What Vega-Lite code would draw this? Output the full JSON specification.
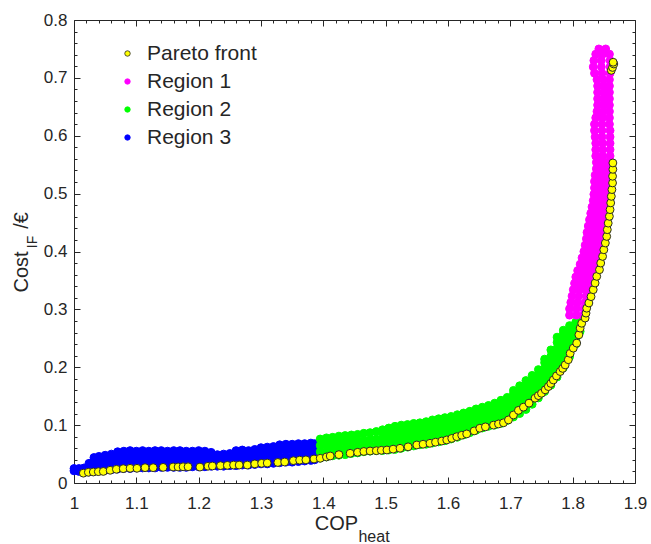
{
  "$schema": "https://vega.github.io/schema/vega-lite/v6.json",
  "autosize": {"type": "none"},
  "width": 561,
  "height": 463,
  "padding": {"left": 74, "top": 20, "right": 16, "bottom": 61},
  "background": "white",
  "config": {
    "view": {"stroke": null},
    "font": "Liberation Sans",
    "axis": {
      "grid": false,
      "domainColor": "#262626",
      "tickColor": "#262626",
      "labelColor": "#262626",
      "titleColor": "#262626",
      "labelFont": "Liberation Sans",
      "titleFont": "Liberation Sans",
      "labelFontSize": 17,
      "titleFontWeight": "normal",
      "domainWidth": 1,
      "tickWidth": 1,
      "labelFlush": false,
      "labelOverlap": false
    }
  },
  "resolve": {"axis": {"x": "independent", "y": "independent"}},
  "layer": [
    {
      "data": {"values": [
        {"g":"Region 3","x":1.000,"y":0.021},{"g":"Region 3","x":1.000,"y":0.025},
        {"g":"Region 3","x":1.008,"y":0.020},{"g":"Region 3","x":1.008,"y":0.025},
        {"g":"Region 3","x":1.016,"y":0.019},{"g":"Region 3","x":1.016,"y":0.026},
        {"g":"Region 3","x":1.024,"y":0.019},{"g":"Region 3","x":1.024,"y":0.027},{"g":"Region 3","x":1.024,"y":0.034},
        {"g":"Region 3","x":1.032,"y":0.020},{"g":"Region 3","x":1.032,"y":0.029},{"g":"Region 3","x":1.032,"y":0.038},{"g":"Region 3","x":1.032,"y":0.044},
        {"g":"Region 3","x":1.04,"y":0.021},{"g":"Region 3","x":1.04,"y":0.030},{"g":"Region 3","x":1.04,"y":0.039},{"g":"Region 3","x":1.04,"y":0.046},
        {"g":"Region 3","x":1.05,"y":0.022},{"g":"Region 3","x":1.05,"y":0.031},{"g":"Region 3","x":1.05,"y":0.040},{"g":"Region 3","x":1.05,"y":0.048},
        {"g":"Region 3","x":1.06,"y":0.023},{"g":"Region 3","x":1.06,"y":0.032},{"g":"Region 3","x":1.06,"y":0.041},{"g":"Region 3","x":1.06,"y":0.050},
        {"g":"Region 3","x":1.07,"y":0.024},{"g":"Region 3","x":1.07,"y":0.034},{"g":"Region 3","x":1.07,"y":0.044},{"g":"Region 3","x":1.07,"y":0.054},
        {"g":"Region 3","x":1.08,"y":0.025},{"g":"Region 3","x":1.08,"y":0.035},{"g":"Region 3","x":1.08,"y":0.045},{"g":"Region 3","x":1.08,"y":0.055},
        {"g":"Region 3","x":1.09,"y":0.025},{"g":"Region 3","x":1.09,"y":0.035},{"g":"Region 3","x":1.09,"y":0.045},{"g":"Region 3","x":1.09,"y":0.056},
        {"g":"Region 3","x":1.10,"y":0.026},{"g":"Region 3","x":1.10,"y":0.036},{"g":"Region 3","x":1.10,"y":0.046},{"g":"Region 3","x":1.10,"y":0.055},
        {"g":"Region 3","x":1.11,"y":0.026},{"g":"Region 3","x":1.11,"y":0.036},{"g":"Region 3","x":1.11,"y":0.046},{"g":"Region 3","x":1.11,"y":0.056},
        {"g":"Region 3","x":1.12,"y":0.026},{"g":"Region 3","x":1.12,"y":0.036},{"g":"Region 3","x":1.12,"y":0.046},{"g":"Region 3","x":1.12,"y":0.055},
        {"g":"Region 3","x":1.13,"y":0.026},{"g":"Region 3","x":1.13,"y":0.036},{"g":"Region 3","x":1.13,"y":0.046},{"g":"Region 3","x":1.13,"y":0.056},
        {"g":"Region 3","x":1.14,"y":0.027},{"g":"Region 3","x":1.14,"y":0.037},{"g":"Region 3","x":1.14,"y":0.047},{"g":"Region 3","x":1.14,"y":0.056},
        {"g":"Region 3","x":1.15,"y":0.027},{"g":"Region 3","x":1.15,"y":0.037},{"g":"Region 3","x":1.15,"y":0.047},{"g":"Region 3","x":1.15,"y":0.055},
        {"g":"Region 3","x":1.16,"y":0.027},{"g":"Region 3","x":1.16,"y":0.037},{"g":"Region 3","x":1.16,"y":0.047},{"g":"Region 3","x":1.16,"y":0.056},
        {"g":"Region 3","x":1.17,"y":0.027},{"g":"Region 3","x":1.17,"y":0.037},{"g":"Region 3","x":1.17,"y":0.047},{"g":"Region 3","x":1.17,"y":0.056},
        {"g":"Region 3","x":1.18,"y":0.027},{"g":"Region 3","x":1.18,"y":0.037},{"g":"Region 3","x":1.18,"y":0.047},{"g":"Region 3","x":1.18,"y":0.055},
        {"g":"Region 3","x":1.19,"y":0.028},{"g":"Region 3","x":1.19,"y":0.038},{"g":"Region 3","x":1.19,"y":0.048},{"g":"Region 3","x":1.19,"y":0.055},
        {"g":"Region 3","x":1.20,"y":0.028},{"g":"Region 3","x":1.20,"y":0.038},{"g":"Region 3","x":1.20,"y":0.048},{"g":"Region 3","x":1.20,"y":0.056},
        {"g":"Region 3","x":1.21,"y":0.028},{"g":"Region 3","x":1.21,"y":0.038},{"g":"Region 3","x":1.21,"y":0.048},{"g":"Region 3","x":1.21,"y":0.055},
        {"g":"Region 3","x":1.22,"y":0.029},{"g":"Region 3","x":1.22,"y":0.039},{"g":"Region 3","x":1.22,"y":0.049},{"g":"Region 3","x":1.22,"y":0.053},
        {"g":"Region 3","x":1.23,"y":0.029},{"g":"Region 3","x":1.23,"y":0.039},{"g":"Region 3","x":1.23,"y":0.049},
        {"g":"Region 3","x":1.24,"y":0.029},{"g":"Region 3","x":1.24,"y":0.039},{"g":"Region 3","x":1.24,"y":0.050},
        {"g":"Region 3","x":1.25,"y":0.030},{"g":"Region 3","x":1.25,"y":0.040},{"g":"Region 3","x":1.25,"y":0.051},
        {"g":"Region 3","x":1.26,"y":0.030},{"g":"Region 3","x":1.26,"y":0.040},{"g":"Region 3","x":1.26,"y":0.050},{"g":"Region 3","x":1.26,"y":0.056},
        {"g":"Region 3","x":1.27,"y":0.031},{"g":"Region 3","x":1.27,"y":0.041},{"g":"Region 3","x":1.27,"y":0.050},{"g":"Region 3","x":1.27,"y":0.057},
        {"g":"Region 3","x":1.28,"y":0.031},{"g":"Region 3","x":1.28,"y":0.041},{"g":"Region 3","x":1.28,"y":0.050},{"g":"Region 3","x":1.28,"y":0.056},
        {"g":"Region 3","x":1.29,"y":0.032},{"g":"Region 3","x":1.29,"y":0.042},{"g":"Region 3","x":1.29,"y":0.051},{"g":"Region 3","x":1.29,"y":0.058},
        {"g":"Region 3","x":1.30,"y":0.033},{"g":"Region 3","x":1.30,"y":0.043},{"g":"Region 3","x":1.30,"y":0.053},{"g":"Region 3","x":1.30,"y":0.061},
        {"g":"Region 3","x":1.31,"y":0.033},{"g":"Region 3","x":1.31,"y":0.043},{"g":"Region 3","x":1.31,"y":0.053},{"g":"Region 3","x":1.31,"y":0.062},
        {"g":"Region 3","x":1.32,"y":0.034},{"g":"Region 3","x":1.32,"y":0.044},{"g":"Region 3","x":1.32,"y":0.054},{"g":"Region 3","x":1.32,"y":0.063},
        {"g":"Region 3","x":1.33,"y":0.035},{"g":"Region 3","x":1.33,"y":0.045},{"g":"Region 3","x":1.33,"y":0.056},{"g":"Region 3","x":1.33,"y":0.066},
        {"g":"Region 3","x":1.34,"y":0.036},{"g":"Region 3","x":1.34,"y":0.046},{"g":"Region 3","x":1.34,"y":0.057},{"g":"Region 3","x":1.34,"y":0.067},
        {"g":"Region 3","x":1.35,"y":0.036},{"g":"Region 3","x":1.35,"y":0.046},{"g":"Region 3","x":1.35,"y":0.057},{"g":"Region 3","x":1.35,"y":0.067},
        {"g":"Region 3","x":1.36,"y":0.037},{"g":"Region 3","x":1.36,"y":0.047},{"g":"Region 3","x":1.36,"y":0.058},{"g":"Region 3","x":1.36,"y":0.068},
        {"g":"Region 3","x":1.37,"y":0.038},{"g":"Region 3","x":1.37,"y":0.048},{"g":"Region 3","x":1.37,"y":0.058},{"g":"Region 3","x":1.37,"y":0.068},
        {"g":"Region 3","x":1.38,"y":0.039},{"g":"Region 3","x":1.38,"y":0.049},{"g":"Region 3","x":1.38,"y":0.059},{"g":"Region 3","x":1.38,"y":0.069},
        {"g":"Region 3","x":1.386,"y":0.040},{"g":"Region 3","x":1.386,"y":0.050},{"g":"Region 3","x":1.386,"y":0.060},{"g":"Region 3","x":1.386,"y":0.068},

        {"g":"Region 2","x":1.395,"y":0.043},{"g":"Region 2","x":1.395,"y":0.054},{"g":"Region 2","x":1.395,"y":0.065},{"g":"Region 2","x":1.395,"y":0.076},
        {"g":"Region 2","x":1.405,"y":0.045},{"g":"Region 2","x":1.405,"y":0.056},{"g":"Region 2","x":1.405,"y":0.067},{"g":"Region 2","x":1.405,"y":0.078},
        {"g":"Region 2","x":1.415,"y":0.047},{"g":"Region 2","x":1.415,"y":0.058},{"g":"Region 2","x":1.415,"y":0.069},{"g":"Region 2","x":1.415,"y":0.079},
        {"g":"Region 2","x":1.425,"y":0.048},{"g":"Region 2","x":1.425,"y":0.059},{"g":"Region 2","x":1.425,"y":0.070},{"g":"Region 2","x":1.425,"y":0.081},
        {"g":"Region 2","x":1.435,"y":0.049},{"g":"Region 2","x":1.435,"y":0.060},{"g":"Region 2","x":1.435,"y":0.071},{"g":"Region 2","x":1.435,"y":0.082},
        {"g":"Region 2","x":1.445,"y":0.051},{"g":"Region 2","x":1.445,"y":0.062},{"g":"Region 2","x":1.445,"y":0.073},{"g":"Region 2","x":1.445,"y":0.083},
        {"g":"Region 2","x":1.455,"y":0.052},{"g":"Region 2","x":1.455,"y":0.062},{"g":"Region 2","x":1.455,"y":0.073},{"g":"Region 2","x":1.455,"y":0.084},
        {"g":"Region 2","x":1.465,"y":0.054},{"g":"Region 2","x":1.465,"y":0.063},{"g":"Region 2","x":1.465,"y":0.074},{"g":"Region 2","x":1.465,"y":0.086},
        {"g":"Region 2","x":1.475,"y":0.055},{"g":"Region 2","x":1.475,"y":0.064},{"g":"Region 2","x":1.475,"y":0.075},{"g":"Region 2","x":1.475,"y":0.087},
        {"g":"Region 2","x":1.485,"y":0.056},{"g":"Region 2","x":1.485,"y":0.065},{"g":"Region 2","x":1.485,"y":0.076},{"g":"Region 2","x":1.485,"y":0.089},
        {"g":"Region 2","x":1.495,"y":0.056},{"g":"Region 2","x":1.495,"y":0.066},{"g":"Region 2","x":1.495,"y":0.077},{"g":"Region 2","x":1.495,"y":0.087},{"g":"Region 2","x":1.495,"y":0.092},
        {"g":"Region 2","x":1.505,"y":0.057},{"g":"Region 2","x":1.505,"y":0.067},{"g":"Region 2","x":1.505,"y":0.077},{"g":"Region 2","x":1.505,"y":0.087},{"g":"Region 2","x":1.505,"y":0.095},
        {"g":"Region 2","x":1.515,"y":0.058},{"g":"Region 2","x":1.515,"y":0.068},{"g":"Region 2","x":1.515,"y":0.078},{"g":"Region 2","x":1.515,"y":0.088},{"g":"Region 2","x":1.515,"y":0.098},
        {"g":"Region 2","x":1.525,"y":0.060},{"g":"Region 2","x":1.525,"y":0.070},{"g":"Region 2","x":1.525,"y":0.080},{"g":"Region 2","x":1.525,"y":0.090},{"g":"Region 2","x":1.525,"y":0.100},
        {"g":"Region 2","x":1.535,"y":0.062},{"g":"Region 2","x":1.535,"y":0.072},{"g":"Region 2","x":1.535,"y":0.082},{"g":"Region 2","x":1.535,"y":0.092},{"g":"Region 2","x":1.535,"y":0.101},
        {"g":"Region 2","x":1.545,"y":0.064},{"g":"Region 2","x":1.545,"y":0.074},{"g":"Region 2","x":1.545,"y":0.084},{"g":"Region 2","x":1.545,"y":0.094},{"g":"Region 2","x":1.545,"y":0.103},
        {"g":"Region 2","x":1.555,"y":0.066},{"g":"Region 2","x":1.555,"y":0.075},{"g":"Region 2","x":1.555,"y":0.085},{"g":"Region 2","x":1.555,"y":0.095},{"g":"Region 2","x":1.555,"y":0.104},
        {"g":"Region 2","x":1.565,"y":0.067},{"g":"Region 2","x":1.565,"y":0.077},{"g":"Region 2","x":1.565,"y":0.087},{"g":"Region 2","x":1.565,"y":0.097},{"g":"Region 2","x":1.565,"y":0.106},
        {"g":"Region 2","x":1.575,"y":0.069},{"g":"Region 2","x":1.575,"y":0.079},{"g":"Region 2","x":1.575,"y":0.089},{"g":"Region 2","x":1.575,"y":0.099},{"g":"Region 2","x":1.575,"y":0.109},
        {"g":"Region 2","x":1.585,"y":0.071},{"g":"Region 2","x":1.585,"y":0.081},{"g":"Region 2","x":1.585,"y":0.091},{"g":"Region 2","x":1.585,"y":0.101},{"g":"Region 2","x":1.585,"y":0.111},
        {"g":"Region 2","x":1.595,"y":0.073},{"g":"Region 2","x":1.595,"y":0.083},{"g":"Region 2","x":1.595,"y":0.093},{"g":"Region 2","x":1.595,"y":0.103},{"g":"Region 2","x":1.595,"y":0.113},
        {"g":"Region 2","x":1.605,"y":0.076},{"g":"Region 2","x":1.605,"y":0.086},{"g":"Region 2","x":1.605,"y":0.096},{"g":"Region 2","x":1.605,"y":0.106},{"g":"Region 2","x":1.605,"y":0.115},
        {"g":"Region 2","x":1.615,"y":0.079},{"g":"Region 2","x":1.615,"y":0.089},{"g":"Region 2","x":1.615,"y":0.099},{"g":"Region 2","x":1.615,"y":0.109},{"g":"Region 2","x":1.615,"y":0.118},
        {"g":"Region 2","x":1.625,"y":0.083},{"g":"Region 2","x":1.625,"y":0.093},{"g":"Region 2","x":1.625,"y":0.103},{"g":"Region 2","x":1.625,"y":0.113},{"g":"Region 2","x":1.625,"y":0.121},
        {"g":"Region 2","x":1.635,"y":0.087},{"g":"Region 2","x":1.635,"y":0.096},{"g":"Region 2","x":1.635,"y":0.106},{"g":"Region 2","x":1.635,"y":0.116},{"g":"Region 2","x":1.635,"y":0.124},
        {"g":"Region 2","x":1.645,"y":0.091},{"g":"Region 2","x":1.645,"y":0.100},{"g":"Region 2","x":1.645,"y":0.109},{"g":"Region 2","x":1.645,"y":0.119},{"g":"Region 2","x":1.645,"y":0.128},
        {"g":"Region 2","x":1.655,"y":0.095},{"g":"Region 2","x":1.655,"y":0.104},{"g":"Region 2","x":1.655,"y":0.113},{"g":"Region 2","x":1.655,"y":0.122},{"g":"Region 2","x":1.655,"y":0.131},
        {"g":"Region 2","x":1.665,"y":0.098},{"g":"Region 2","x":1.665,"y":0.107},{"g":"Region 2","x":1.665,"y":0.116},{"g":"Region 2","x":1.665,"y":0.125},{"g":"Region 2","x":1.665,"y":0.134},
        {"g":"Region 2","x":1.675,"y":0.100},{"g":"Region 2","x":1.675,"y":0.109},{"g":"Region 2","x":1.675,"y":0.118},{"g":"Region 2","x":1.675,"y":0.128},{"g":"Region 2","x":1.675,"y":0.138},
        {"g":"Region 2","x":1.685,"y":0.103},{"g":"Region 2","x":1.685,"y":0.112},{"g":"Region 2","x":1.685,"y":0.122},{"g":"Region 2","x":1.685,"y":0.132},{"g":"Region 2","x":1.685,"y":0.143},
        {"g":"Region 2","x":1.695,"y":0.108},{"g":"Region 2","x":1.695,"y":0.117},{"g":"Region 2","x":1.695,"y":0.127},{"g":"Region 2","x":1.695,"y":0.137},{"g":"Region 2","x":1.695,"y":0.148},
        {"g":"Region 2","x":1.705,"y":0.114},{"g":"Region 2","x":1.705,"y":0.124},{"g":"Region 2","x":1.705,"y":0.134},{"g":"Region 2","x":1.705,"y":0.144},{"g":"Region 2","x":1.705,"y":0.154},{"g":"Region 2","x":1.705,"y":0.160},
        {"g":"Region 2","x":1.715,"y":0.120},{"g":"Region 2","x":1.715,"y":0.130},{"g":"Region 2","x":1.715,"y":0.140},{"g":"Region 2","x":1.715,"y":0.150},{"g":"Region 2","x":1.715,"y":0.160},{"g":"Region 2","x":1.715,"y":0.168},
        {"g":"Region 2","x":1.725,"y":0.127},{"g":"Region 2","x":1.725,"y":0.137},{"g":"Region 2","x":1.725,"y":0.147},{"g":"Region 2","x":1.725,"y":0.157},{"g":"Region 2","x":1.725,"y":0.167},{"g":"Region 2","x":1.725,"y":0.177},
        {"g":"Region 2","x":1.735,"y":0.136},{"g":"Region 2","x":1.735,"y":0.146},{"g":"Region 2","x":1.735,"y":0.156},{"g":"Region 2","x":1.735,"y":0.166},{"g":"Region 2","x":1.735,"y":0.176},{"g":"Region 2","x":1.735,"y":0.186},
        {"g":"Region 2","x":1.745,"y":0.147},{"g":"Region 2","x":1.745,"y":0.157},{"g":"Region 2","x":1.745,"y":0.167},{"g":"Region 2","x":1.745,"y":0.177},{"g":"Region 2","x":1.745,"y":0.187},{"g":"Region 2","x":1.745,"y":0.196},
        {"g":"Region 2","x":1.755,"y":0.158},{"g":"Region 2","x":1.755,"y":0.168},{"g":"Region 2","x":1.755,"y":0.178},{"g":"Region 2","x":1.755,"y":0.188},{"g":"Region 2","x":1.755,"y":0.198},{"g":"Region 2","x":1.755,"y":0.208},{"g":"Region 2","x":1.755,"y":0.214},
        {"g":"Region 2","x":1.765,"y":0.169},{"g":"Region 2","x":1.765,"y":0.179},{"g":"Region 2","x":1.765,"y":0.189},{"g":"Region 2","x":1.765,"y":0.199},{"g":"Region 2","x":1.765,"y":0.209},{"g":"Region 2","x":1.765,"y":0.219},{"g":"Region 2","x":1.765,"y":0.230},
        {"g":"Region 2","x":1.775,"y":0.183},{"g":"Region 2","x":1.775,"y":0.193},{"g":"Region 2","x":1.775,"y":0.203},{"g":"Region 2","x":1.775,"y":0.213},{"g":"Region 2","x":1.775,"y":0.223},{"g":"Region 2","x":1.775,"y":0.233},{"g":"Region 2","x":1.775,"y":0.243},{"g":"Region 2","x":1.775,"y":0.252},
        {"g":"Region 2","x":1.785,"y":0.199},{"g":"Region 2","x":1.785,"y":0.209},{"g":"Region 2","x":1.785,"y":0.219},{"g":"Region 2","x":1.785,"y":0.229},{"g":"Region 2","x":1.785,"y":0.239},{"g":"Region 2","x":1.785,"y":0.249},{"g":"Region 2","x":1.785,"y":0.258},{"g":"Region 2","x":1.785,"y":0.264},
        {"g":"Region 2","x":1.795,"y":0.218},{"g":"Region 2","x":1.795,"y":0.228},{"g":"Region 2","x":1.795,"y":0.238},{"g":"Region 2","x":1.795,"y":0.248},{"g":"Region 2","x":1.795,"y":0.258},{"g":"Region 2","x":1.795,"y":0.266},{"g":"Region 2","x":1.795,"y":0.272},
        {"g":"Region 2","x":1.805,"y":0.240},{"g":"Region 2","x":1.805,"y":0.250},{"g":"Region 2","x":1.805,"y":0.260},{"g":"Region 2","x":1.805,"y":0.270},{"g":"Region 2","x":1.805,"y":0.278},
        {"g":"Region 2","x":1.812,"y":0.262},{"g":"Region 2","x":1.812,"y":0.272},{"g":"Region 2","x":1.812,"y":0.281},

        {"g":"Region 1","x":1.795,"y":0.290},{"g":"Region 1","x":1.806,"y":0.290},{"g":"Region 1","x":1.817,"y":0.290},
        {"g":"Region 1","x":1.795,"y":0.301},{"g":"Region 1","x":1.806,"y":0.301},{"g":"Region 1","x":1.818,"y":0.301},
        {"g":"Region 1","x":1.797,"y":0.312},{"g":"Region 1","x":1.808,"y":0.312},{"g":"Region 1","x":1.820,"y":0.312},
        {"g":"Region 1","x":1.799,"y":0.323},{"g":"Region 1","x":1.810,"y":0.323},{"g":"Region 1","x":1.822,"y":0.323},{"g":"Region 1","x":1.826,"y":0.323},
        {"g":"Region 1","x":1.801,"y":0.334},{"g":"Region 1","x":1.811,"y":0.334},{"g":"Region 1","x":1.821,"y":0.334},{"g":"Region 1","x":1.829,"y":0.334},
        {"g":"Region 1","x":1.803,"y":0.345},{"g":"Region 1","x":1.813,"y":0.345},{"g":"Region 1","x":1.823,"y":0.345},{"g":"Region 1","x":1.832,"y":0.345},
        {"g":"Region 1","x":1.805,"y":0.356},{"g":"Region 1","x":1.815,"y":0.356},{"g":"Region 1","x":1.825,"y":0.356},{"g":"Region 1","x":1.835,"y":0.356},
        {"g":"Region 1","x":1.808,"y":0.367},{"g":"Region 1","x":1.818,"y":0.367},{"g":"Region 1","x":1.828,"y":0.367},{"g":"Region 1","x":1.838,"y":0.367},
        {"g":"Region 1","x":1.812,"y":0.378},{"g":"Region 1","x":1.822,"y":0.378},{"g":"Region 1","x":1.832,"y":0.378},{"g":"Region 1","x":1.841,"y":0.378},
        {"g":"Region 1","x":1.815,"y":0.389},{"g":"Region 1","x":1.825,"y":0.389},{"g":"Region 1","x":1.835,"y":0.389},{"g":"Region 1","x":1.844,"y":0.389},
        {"g":"Region 1","x":1.818,"y":0.400},{"g":"Region 1","x":1.828,"y":0.400},{"g":"Region 1","x":1.838,"y":0.400},{"g":"Region 1","x":1.846,"y":0.400},
        {"g":"Region 1","x":1.820,"y":0.411},{"g":"Region 1","x":1.830,"y":0.411},{"g":"Region 1","x":1.840,"y":0.411},{"g":"Region 1","x":1.848,"y":0.411},
        {"g":"Region 1","x":1.822,"y":0.422},{"g":"Region 1","x":1.832,"y":0.422},{"g":"Region 1","x":1.842,"y":0.422},{"g":"Region 1","x":1.850,"y":0.422},
        {"g":"Region 1","x":1.823,"y":0.433},{"g":"Region 1","x":1.833,"y":0.433},{"g":"Region 1","x":1.843,"y":0.433},{"g":"Region 1","x":1.851,"y":0.433},
        {"g":"Region 1","x":1.825,"y":0.444},{"g":"Region 1","x":1.835,"y":0.444},{"g":"Region 1","x":1.845,"y":0.444},{"g":"Region 1","x":1.853,"y":0.444},
        {"g":"Region 1","x":1.827,"y":0.455},{"g":"Region 1","x":1.837,"y":0.455},{"g":"Region 1","x":1.847,"y":0.455},{"g":"Region 1","x":1.854,"y":0.455},
        {"g":"Region 1","x":1.829,"y":0.466},{"g":"Region 1","x":1.839,"y":0.466},{"g":"Region 1","x":1.849,"y":0.466},{"g":"Region 1","x":1.856,"y":0.466},
        {"g":"Region 1","x":1.831,"y":0.477},{"g":"Region 1","x":1.841,"y":0.477},{"g":"Region 1","x":1.850,"y":0.477},{"g":"Region 1","x":1.857,"y":0.477},
        {"g":"Region 1","x":1.833,"y":0.488},{"g":"Region 1","x":1.842,"y":0.488},{"g":"Region 1","x":1.851,"y":0.488},{"g":"Region 1","x":1.858,"y":0.488},
        {"g":"Region 1","x":1.834,"y":0.499},{"g":"Region 1","x":1.843,"y":0.499},{"g":"Region 1","x":1.852,"y":0.499},{"g":"Region 1","x":1.859,"y":0.499},
        {"g":"Region 1","x":1.835,"y":0.510},{"g":"Region 1","x":1.844,"y":0.510},{"g":"Region 1","x":1.853,"y":0.510},{"g":"Region 1","x":1.860,"y":0.510},
        {"g":"Region 1","x":1.835,"y":0.521},{"g":"Region 1","x":1.844,"y":0.521},{"g":"Region 1","x":1.853,"y":0.521},{"g":"Region 1","x":1.860,"y":0.521},
        {"g":"Region 1","x":1.836,"y":0.532},{"g":"Region 1","x":1.845,"y":0.532},{"g":"Region 1","x":1.854,"y":0.532},{"g":"Region 1","x":1.861,"y":0.532},
        {"g":"Region 1","x":1.838,"y":0.543},{"g":"Region 1","x":1.846,"y":0.543},{"g":"Region 1","x":1.854,"y":0.543},{"g":"Region 1","x":1.861,"y":0.543},
        {"g":"Region 1","x":1.838,"y":0.554},{"g":"Region 1","x":1.847,"y":0.554},{"g":"Region 1","x":1.854,"y":0.554},{"g":"Region 1","x":1.861,"y":0.554},
        {"g":"Region 1","x":1.837,"y":0.565},{"g":"Region 1","x":1.848,"y":0.565},{"g":"Region 1","x":1.860,"y":0.565},
        {"g":"Region 1","x":1.837,"y":0.576},{"g":"Region 1","x":1.848,"y":0.576},{"g":"Region 1","x":1.860,"y":0.576},
        {"g":"Region 1","x":1.837,"y":0.587},{"g":"Region 1","x":1.848,"y":0.587},{"g":"Region 1","x":1.860,"y":0.587},
        {"g":"Region 1","x":1.836,"y":0.598},{"g":"Region 1","x":1.847,"y":0.598},{"g":"Region 1","x":1.860,"y":0.598},
        {"g":"Region 1","x":1.835,"y":0.609},{"g":"Region 1","x":1.847,"y":0.609},{"g":"Region 1","x":1.860,"y":0.609},
        {"g":"Region 1","x":1.835,"y":0.620},{"g":"Region 1","x":1.847,"y":0.620},{"g":"Region 1","x":1.859,"y":0.620},
        {"g":"Region 1","x":1.837,"y":0.631},{"g":"Region 1","x":1.848,"y":0.631},{"g":"Region 1","x":1.859,"y":0.631},
        {"g":"Region 1","x":1.839,"y":0.642},{"g":"Region 1","x":1.849,"y":0.642},{"g":"Region 1","x":1.859,"y":0.642},
        {"g":"Region 1","x":1.840,"y":0.653},{"g":"Region 1","x":1.850,"y":0.653},{"g":"Region 1","x":1.859,"y":0.653},
        {"g":"Region 1","x":1.840,"y":0.664},{"g":"Region 1","x":1.850,"y":0.664},{"g":"Region 1","x":1.859,"y":0.664},
        {"g":"Region 1","x":1.840,"y":0.675},{"g":"Region 1","x":1.850,"y":0.675},{"g":"Region 1","x":1.859,"y":0.675},
        {"g":"Region 1","x":1.840,"y":0.686},{"g":"Region 1","x":1.850,"y":0.686},{"g":"Region 1","x":1.859,"y":0.686},
        {"g":"Region 1","x":1.839,"y":0.697},{"g":"Region 1","x":1.849,"y":0.697},{"g":"Region 1","x":1.859,"y":0.697},
        {"g":"Region 1","x":1.835,"y":0.708},{"g":"Region 1","x":1.847,"y":0.708},{"g":"Region 1","x":1.860,"y":0.708},
        {"g":"Region 1","x":1.833,"y":0.719},{"g":"Region 1","x":1.846,"y":0.719},{"g":"Region 1","x":1.860,"y":0.719},
        {"g":"Region 1","x":1.834,"y":0.730},{"g":"Region 1","x":1.846,"y":0.730},{"g":"Region 1","x":1.860,"y":0.730},
        {"g":"Region 1","x":1.837,"y":0.741},{"g":"Region 1","x":1.848,"y":0.741},{"g":"Region 1","x":1.859,"y":0.741},
        {"g":"Region 1","x":1.842,"y":0.750},{"g":"Region 1","x":1.853,"y":0.750},

        {"g":"Pareto front","x":1.015,"y":0.017},{"g":"Pareto front","x":1.023,"y":0.0185},{"g":"Pareto front","x":1.031,"y":0.019},
        {"g":"Pareto front","x":1.039,"y":0.0196},{"g":"Pareto front","x":1.047,"y":0.020},{"g":"Pareto front","x":1.058,"y":0.022},
        {"g":"Pareto front","x":1.068,"y":0.0237},{"g":"Pareto front","x":1.079,"y":0.0248},{"g":"Pareto front","x":1.09,"y":0.0254},
        {"g":"Pareto front","x":1.101,"y":0.0254},{"g":"Pareto front","x":1.114,"y":0.0265},{"g":"Pareto front","x":1.127,"y":0.0265},
        {"g":"Pareto front","x":1.143,"y":0.027},{"g":"Pareto front","x":1.159,"y":0.0277},{"g":"Pareto front","x":1.167,"y":0.0277},
        {"g":"Pareto front","x":1.175,"y":0.028},{"g":"Pareto front","x":1.183,"y":0.028},{"g":"Pareto front","x":1.202,"y":0.0275},
        {"g":"Pareto front","x":1.215,"y":0.029},{"g":"Pareto front","x":1.222,"y":0.0294},{"g":"Pareto front","x":1.235,"y":0.030},
        {"g":"Pareto front","x":1.246,"y":0.0305},{"g":"Pareto front","x":1.256,"y":0.031},{"g":"Pareto front","x":1.265,"y":0.031},
        {"g":"Pareto front","x":1.278,"y":0.031},{"g":"Pareto front","x":1.29,"y":0.033},{"g":"Pareto front","x":1.301,"y":0.034},
        {"g":"Pareto front","x":1.31,"y":0.0345},{"g":"Pareto front","x":1.327,"y":0.0355},{"g":"Pareto front","x":1.338,"y":0.0363},
        {"g":"Pareto front","x":1.352,"y":0.0386},{"g":"Pareto front","x":1.362,"y":0.0395},{"g":"Pareto front","x":1.372,"y":0.040},
        {"g":"Pareto front","x":1.385,"y":0.0415},{"g":"Pareto front","x":1.395,"y":0.0427},{"g":"Pareto front","x":1.405,"y":0.045},
        {"g":"Pareto front","x":1.411,"y":0.0467},{"g":"Pareto front","x":1.425,"y":0.049},{"g":"Pareto front","x":1.443,"y":0.0513},
        {"g":"Pareto front","x":1.455,"y":0.053},{"g":"Pareto front","x":1.465,"y":0.0545},{"g":"Pareto front","x":1.475,"y":0.0553},
        {"g":"Pareto front","x":1.485,"y":0.0558},{"g":"Pareto front","x":1.493,"y":0.0565},{"g":"Pareto front","x":1.502,"y":0.057},
        {"g":"Pareto front","x":1.512,"y":0.0585},{"g":"Pareto front","x":1.523,"y":0.060},{"g":"Pareto front","x":1.536,"y":0.0625},
        {"g":"Pareto front","x":1.55,"y":0.0657},{"g":"Pareto front","x":1.56,"y":0.067},{"g":"Pareto front","x":1.571,"y":0.0686},
        {"g":"Pareto front","x":1.58,"y":0.0705},{"g":"Pareto front","x":1.59,"y":0.0725},{"g":"Pareto front","x":1.598,"y":0.0744},
        {"g":"Pareto front","x":1.606,"y":0.077},{"g":"Pareto front","x":1.614,"y":0.080},{"g":"Pareto front","x":1.622,"y":0.0825},
        {"g":"Pareto front","x":1.63,"y":0.0848},{"g":"Pareto front","x":1.642,"y":0.090},{"g":"Pareto front","x":1.651,"y":0.0946},
        {"g":"Pareto front","x":1.66,"y":0.097},{"g":"Pareto front","x":1.673,"y":0.100},{"g":"Pareto front","x":1.681,"y":0.102},
        {"g":"Pareto front","x":1.689,"y":0.104},{"g":"Pareto front","x":1.697,"y":0.109},{"g":"Pareto front","x":1.705,"y":0.1175},
        {"g":"Pareto front","x":1.713,"y":0.1255},{"g":"Pareto front","x":1.721,"y":0.131},{"g":"Pareto front","x":1.73,"y":0.138},
        {"g":"Pareto front","x":1.7396,"y":0.1465},{"g":"Pareto front","x":1.745,"y":0.151},{"g":"Pareto front","x":1.75,"y":0.155},
        {"g":"Pareto front","x":1.756,"y":0.161},{"g":"Pareto front","x":1.761,"y":0.1666},{"g":"Pareto front","x":1.765,"y":0.172},
        {"g":"Pareto front","x":1.769,"y":0.178},{"g":"Pareto front","x":1.774,"y":0.185},{"g":"Pareto front","x":1.78,"y":0.1926},
        {"g":"Pareto front","x":1.784,"y":0.198},{"g":"Pareto front","x":1.788,"y":0.204},{"g":"Pareto front","x":1.793,"y":0.213},
        {"g":"Pareto front","x":1.796,"y":0.224},{"g":"Pareto front","x":1.801,"y":0.233},{"g":"Pareto front","x":1.8065,"y":0.2417},
        {"g":"Pareto front","x":1.81,"y":0.256},{"g":"Pareto front","x":1.812,"y":0.2676},{"g":"Pareto front","x":1.8145,"y":0.276},
        {"g":"Pareto front","x":1.82,"y":0.285},{"g":"Pareto front","x":1.8214,"y":0.2935},{"g":"Pareto front","x":1.8225,"y":0.302},
        {"g":"Pareto front","x":1.826,"y":0.311},{"g":"Pareto front","x":1.8295,"y":0.322},{"g":"Pareto front","x":1.833,"y":0.334},
        {"g":"Pareto front","x":1.836,"y":0.3455},{"g":"Pareto front","x":1.8386,"y":0.357},{"g":"Pareto front","x":1.843,"y":0.3685},
        {"g":"Pareto front","x":1.845,"y":0.380},{"g":"Pareto front","x":1.848,"y":0.3915},{"g":"Pareto front","x":1.85,"y":0.403},
        {"g":"Pareto front","x":1.8524,"y":0.4147},{"g":"Pareto front","x":1.8546,"y":0.426},{"g":"Pareto front","x":1.8556,"y":0.4377},
        {"g":"Pareto front","x":1.857,"y":0.449},{"g":"Pareto front","x":1.8589,"y":0.4607},{"g":"Pareto front","x":1.86,"y":0.4723},
        {"g":"Pareto front","x":1.861,"y":0.484},{"g":"Pareto front","x":1.862,"y":0.4953},{"g":"Pareto front","x":1.863,"y":0.507},
        {"g":"Pareto front","x":1.864,"y":0.5185},{"g":"Pareto front","x":1.864,"y":0.53},{"g":"Pareto front","x":1.8645,"y":0.542},
        {"g":"Pareto front","x":1.8645,"y":0.553},{"g":"Pareto front","x":1.862,"y":0.713},{"g":"Pareto front","x":1.864,"y":0.718},
        {"g":"Pareto front","x":1.866,"y":0.724},{"g":"Pareto front","x":1.865,"y":0.727}
      ]},
      "mark": {"type": "circle", "opacity": 1, "strokeWidth": 1},
      "encoding": {
        "x": {
          "field": "x", "type": "quantitative",
          "scale": {"domain": [1, 1.9], "nice": false, "zero": false},
          "axis": {
            "orient": "bottom",
            "values": [1, 1.1, 1.2, 1.3, 1.4, 1.5, 1.6, 1.7, 1.8, 1.9],
            "format": ".1~f",
            "tickSize": -6,
            "labelPadding": 18,
            "title": "COP",
            "titleFontSize": 20,
            "titleX": 262, "titleY": 46,
            "titleAlign": "center", "titleBaseline": "alphabetic", "titleAngle": 0
          }
        },
        "y": {
          "field": "y", "type": "quantitative",
          "scale": {"domain": [0, 0.8], "nice": false, "zero": false},
          "axis": {
            "orient": "left",
            "values": [0, 0.1, 0.2, 0.3, 0.4, 0.5, 0.6, 0.7, 0.8],
            "format": ".1~f",
            "tickSize": -6,
            "labelPadding": 13,
            "title": "Cost",
            "titleFontSize": 20,
            "titleX": -47, "titleY": 251.5,
            "titleAlign": "center", "titleBaseline": "alphabetic", "titleAngle": 270
          }
        },
        "fill": {
          "field": "g", "type": "nominal",
          "scale": {"domain": ["Pareto front", "Region 1", "Region 2", "Region 3"], "range": ["#ffff00", "#ff00ff", "#00ff00", "#0000ff"]},
          "legend": {"orient": "none", "legendX": 43, "legendY": 23, "title": null, "labelFontSize": 21, "labelFont": "Liberation Sans", "labelColor": "#262626", "symbolSize": 30, "symbolStrokeWidth": 0.8, "rowPadding": 6, "labelOffset": 9, "padding": 0}
        },
        "stroke": {
          "field": "g", "type": "nominal",
          "scale": {"domain": ["Pareto front", "Region 1", "Region 2", "Region 3"], "range": ["#2a2a2a", "#ff00ff", "#00ff00", "#0000ff"]},
          "legend": {"orient": "none", "legendX": 43, "legendY": 23, "title": null, "labelFontSize": 21, "labelFont": "Liberation Sans", "labelColor": "#262626", "symbolSize": 30, "symbolStrokeWidth": 0.8, "rowPadding": 6, "labelOffset": 9, "padding": 0}
        },
        "size": {
          "field": "g", "type": "nominal",
          "scale": {"domain": ["Region 1", "Region 2", "Region 3", "Pareto front"], "range": [62, 62, 62, 36]},
          "legend": null
        }
      }
    },
    {
      "data": {"values": [{"x": 1, "y": 0}]},
      "mark": {"type": "circle", "opacity": 0},
      "encoding": {
        "x": {
          "field": "x", "type": "quantitative",
          "scale": {"domain": [1, 1.9], "nice": false, "zero": false},
          "axis": {
            "orient": "bottom",
            "values": [1.02,1.04,1.06,1.08,1.12,1.14,1.16,1.18,1.22,1.24,1.26,1.28,1.32,1.34,1.36,1.38,1.42,1.44,1.46,1.48,1.52,1.54,1.56,1.58,1.62,1.64,1.66,1.68,1.72,1.74,1.76,1.78,1.82,1.84,1.86,1.88],
            "tickSize": -3, "labels": false, "domain": false,
            "title": "heat",
            "titleFontSize": 16,
            "titleX": 299.5, "titleY": 58.5,
            "titleAlign": "center", "titleBaseline": "alphabetic", "titleAngle": 0
          }
        },
        "y": {
          "field": "y", "type": "quantitative",
          "scale": {"domain": [0, 0.8], "nice": false, "zero": false},
          "axis": {
            "orient": "left",
            "values": [0.02,0.04,0.06,0.08,0.12,0.14,0.16,0.18,0.22,0.24,0.26,0.28,0.32,0.34,0.36,0.38,0.42,0.44,0.46,0.48,0.52,0.54,0.56,0.58,0.62,0.64,0.66,0.68,0.72,0.74,0.76,0.78],
            "tickSize": -3, "labels": false, "domain": false,
            "title": "IF",
            "titleFontSize": 14,
            "titleX": -38, "titleY": 221.5,
            "titleAlign": "center", "titleBaseline": "alphabetic", "titleAngle": 270
          }
        }
      }
    },
    {
      "data": {"values": [{"x": 1, "y": 0}]},
      "mark": {"type": "circle", "opacity": 0},
      "encoding": {
        "x": {
          "field": "x", "type": "quantitative",
          "scale": {"domain": [1, 1.9], "nice": false, "zero": false},
          "axis": {
            "orient": "top",
            "values": [1, 1.1, 1.2, 1.3, 1.4, 1.5, 1.6, 1.7, 1.8, 1.9],
            "tickSize": -6, "labels": false, "title": null
          }
        },
        "y": {
          "field": "y", "type": "quantitative",
          "scale": {"domain": [0, 0.8], "nice": false, "zero": false},
          "axis": {
            "orient": "right",
            "values": [0, 0.1, 0.2, 0.3, 0.4, 0.5, 0.6, 0.7, 0.8],
            "tickSize": -6, "labels": false, "title": null
          }
        }
      }
    },
    {
      "data": {"values": [{"x": 1, "y": 0}]},
      "mark": {"type": "circle", "opacity": 0},
      "encoding": {
        "x": {
          "field": "x", "type": "quantitative",
          "scale": {"domain": [1, 1.9], "nice": false, "zero": false},
          "axis": {
            "orient": "top",
            "values": [1.02,1.04,1.06,1.08,1.12,1.14,1.16,1.18,1.22,1.24,1.26,1.28,1.32,1.34,1.36,1.38,1.42,1.44,1.46,1.48,1.52,1.54,1.56,1.58,1.62,1.64,1.66,1.68,1.72,1.74,1.76,1.78,1.82,1.84,1.86,1.88],
            "tickSize": -3, "labels": false, "domain": false, "title": null
          }
        },
        "y": {
          "field": "y", "type": "quantitative",
          "scale": {"domain": [0, 0.8], "nice": false, "zero": false},
          "axis": {
            "orient": "right",
            "values": [0.02,0.04,0.06,0.08,0.12,0.14,0.16,0.18,0.22,0.24,0.26,0.28,0.32,0.34,0.36,0.38,0.42,0.44,0.46,0.48,0.52,0.54,0.56,0.58,0.62,0.64,0.66,0.68,0.72,0.74,0.76,0.78],
            "tickSize": -3, "labels": false, "domain": false, "title": null
          }
        }
      }
    },
    {
      "data": {"values": [{"x": 1, "y": 0}]},
      "mark": {"type": "circle", "opacity": 0},
      "encoding": {
        "x": {
          "field": "x", "type": "quantitative",
          "scale": {"domain": [1, 1.9], "nice": false, "zero": false},
          "axis": null
        },
        "y": {
          "field": "y", "type": "quantitative",
          "scale": {"domain": [0, 0.8], "nice": false, "zero": false},
          "axis": {
            "orient": "left",
            "ticks": false, "labels": false, "domain": false,
            "title": "/€",
            "titleFontSize": 20,
            "titleX": -47, "titleY": 200,
            "titleAlign": "center", "titleBaseline": "alphabetic", "titleAngle": 270
          }
        }
      }
    }
  ]
}
